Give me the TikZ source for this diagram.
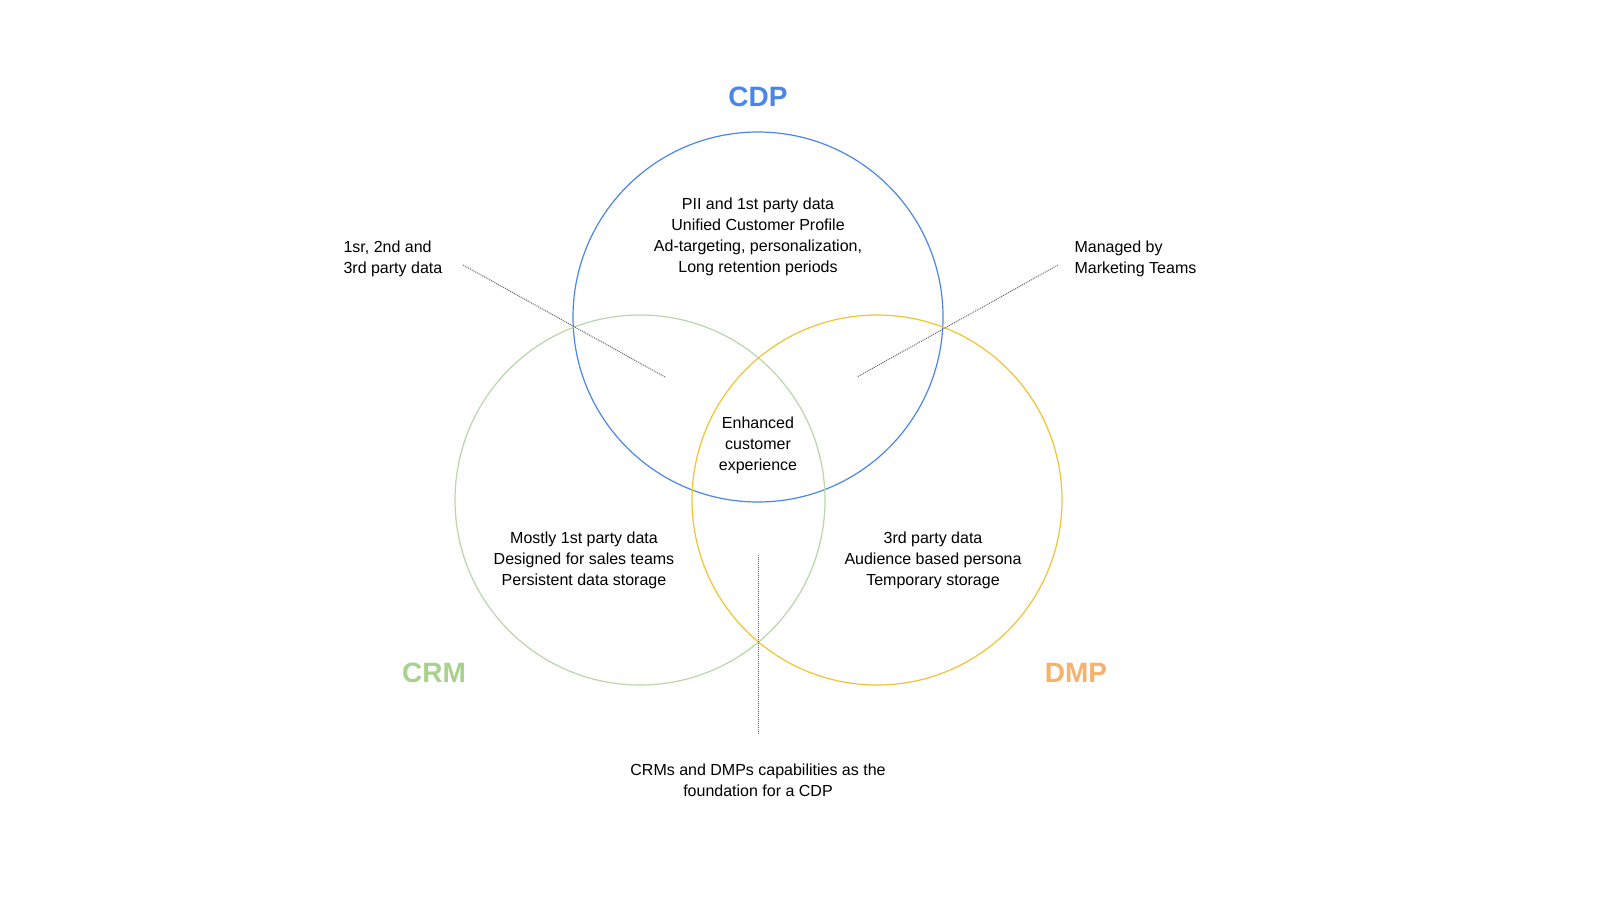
\documentclass[tikz,border=0pt]{standalone}
\usepackage{fontspec}
\setmainfont{Liberation Sans}
\definecolor{cdpblue}{HTML}{4A86E8}
\definecolor{crmgreen}{HTML}{B6D7A8}
\definecolor{dmpyellow}{HTML}{F1C232}
\definecolor{dmporange}{HTML}{F6B26B}
\definecolor{crmlabel}{HTML}{A9D18E}
\begin{document}
\begin{tikzpicture}[x=1pt,y=-1pt,
  txt/.style={align=center,font=\fontsize{16}{21}\selectfont},
  ttl/.style={font=\fontsize{28}{32}\selectfont\bfseries},
  lead/.style={densely dotted,gray!80!black,line width=1pt}]
\useasboundingbox (0,0) rectangle (1600,900);
\node[circle,draw=cdpblue,line width=1.2pt,minimum size=370pt,inner sep=0] (cdp) at (758,317) {};
\node[circle,draw=crmgreen,line width=1.2pt,minimum size=370pt,inner sep=0] (crm) at (640,500) {};
\node[circle,draw=dmpyellow,line width=1.2pt,minimum size=370pt,inner sep=0] (dmp) at (877,500) {};
\node[ttl,text=cdpblue] (tcdp) at (758,97) {CDP};
\node[ttl,text=crmlabel] (tcrm) at (434,673) {CRM};
\node[ttl,text=dmporange] (tdmp) at (1076,673) {DMP};
\node[txt] (a) at (758,237) {PII and 1st party data\\Unified Customer Profile\\Ad-targeting, personalization,\\Long retention periods};
\node[txt] (b) at (758,445) {Enhanced\\customer\\experience};
\node[txt] (c) at (584,560) {Mostly 1st party data\\Designed for sales teams\\Persistent data storage};
\node[txt] (d) at (933,560) {3rd party data\\Audience based persona\\Temporary storage};
\node[txt,align=left,anchor=west] (e) at (340,259) {1sr, 2nd and\\3rd party data};
\node[txt,align=left,anchor=west] (f) at (1071,259) {Managed by\\Marketing Teams};
\node[txt] (g) at (758,780) {CRMs and DMPs capabilities as the\\foundation for a CDP};
\coordinate (e1) at (463,265); \coordinate (e2) at (665,377);
\coordinate (f1) at (1058,265); \coordinate (f2) at (857,377);
\coordinate (g1) at (758,555); \coordinate (g2) at (758,735);
\draw[lead] (e1) -- (e2);
\draw[lead] (f1) -- (f2);
\draw[lead] (g1) -- (g2);
\end{tikzpicture}
\end{document}
